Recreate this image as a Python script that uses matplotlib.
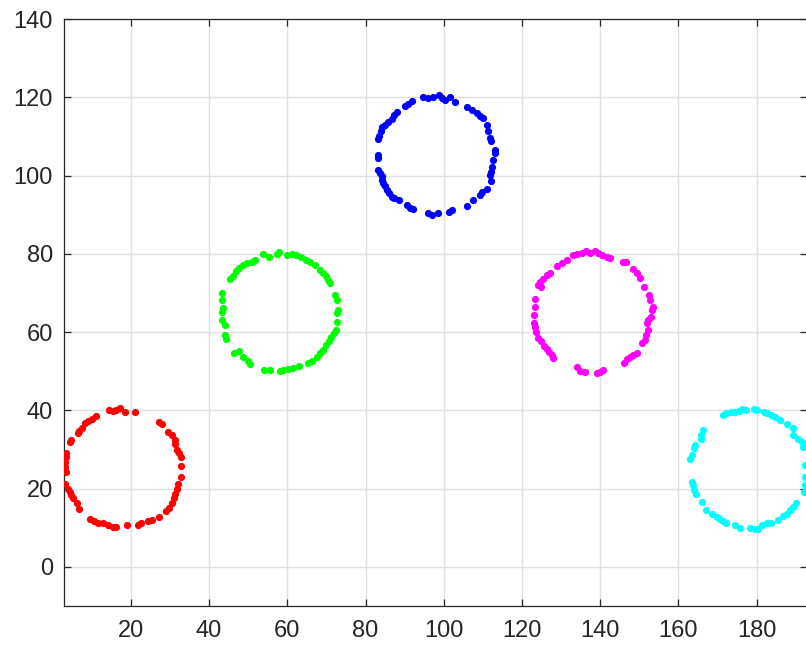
import matplotlib
matplotlib.use("Agg")
import matplotlib.pyplot as plt

# five noisy rings of points, one per cluster
red_x = [14.4, 15.5, 16.3, 17.2, 18.5, 21.0, 11.2, 10.1, 9.1, 8.2, 7.4, 6.7, 6.4, 4.8, 4.4,
         3.5, 3.3, 3.1, 3.1, 3.3, 3.1, 3.8, 4.4, 4.8, 5.3, 6.1, 6.8, 9.5, 10.6, 11.6, 12.9,
         14.2, 15.5, 16.3, 18.9, 21.9, 22.7, 24.4, 25.3, 27.2, 29.1, 29.7, 30.4, 31.0, 31.2,
         31.7, 32.1, 32.8, 32.8, 32.8, 32.3, 31.9, 31.3, 31.4, 30.4, 29.6, 28.0, 27.2]
red_y = [40.1, 39.9, 40.1, 40.5, 39.6, 39.6, 38.6, 37.8, 37.3, 36.7, 35.5, 34.7, 34.1, 32.4, 32.0,
         29.2, 28.1, 26.8, 25.6, 24.3, 21.3, 20.0, 19.2, 18.3, 17.5, 16.2, 14.9, 12.2, 11.7, 11.3, 11.1,
         10.7, 10.2, 10.1, 10.7, 10.8, 11.1, 11.7, 11.9, 12.8, 14.2, 15.1, 16.2, 17.5, 18.7,
         20.0, 21.3, 23.0, 25.8, 28.1, 29.0, 29.8, 31.3, 32.4, 33.7, 34.4, 36.4, 36.9]

green_x = [53.8, 55.4, 57.3, 57.9, 60.0, 61.1, 62.2, 63.4, 64.9, 65.8, 67.1, 68.3, 69.2, 70.0,
           70.5, 70.9, 51.7, 50.9, 49.6, 48.6, 47.7, 47.0, 46.2, 45.3, 43.4, 43.2, 43.6, 43.2,
           43.2, 44.0, 44.0, 44.3, 46.3, 47.7, 48.7, 50.0, 50.4, 54.0, 55.5, 58.1, 59.0, 60.2,
           61.5, 63.0, 65.3, 66.2, 67.5, 68.3, 69.2, 70.0, 70.7, 71.3, 71.9, 72.4, 72.6, 72.2,
           72.6, 73.0, 72.6]
green_y = [80.0, 79.3, 80.0, 80.5, 79.7, 80.0, 79.7, 79.3, 78.4, 77.8, 77.2, 75.9, 75.0, 74.2,
           73.3, 72.5, 78.4, 78.0, 77.6, 77.2, 76.3, 75.5, 74.3, 73.5, 69.9, 68.2, 66.1, 65.2,
           63.1, 61.8, 59.3, 58.2, 54.7, 55.2, 53.7, 52.7, 51.8, 50.3, 50.3, 50.1, 50.3, 50.5,
           50.7, 51.3, 52.0, 52.7, 53.7, 54.6, 55.4, 56.7, 57.6, 58.8, 59.7, 60.5, 62.7, 69.5,
           68.2, 65.6, 65.0]

blue_x = [94.8, 96.0, 97.3, 98.8, 99.6, 100.3, 101.6, 102.9, 91.8, 90.9, 90.1, 88.0, 87.3, 86.7,
          85.8, 85.0, 84.3, 84.0, 83.4, 83.3, 83.3, 83.1, 83.3, 83.7, 84.1, 84.3, 84.5, 85.1,
          85.4, 86.0, 86.7, 87.3, 88.5, 90.5, 91.4, 92.2, 95.9, 97.1, 98.6, 101.3, 102.2, 105.9,
          107.6, 109.3, 109.7, 111.0, 112.1, 111.8, 112.1, 112.4, 112.7, 113.1, 113.0, 112.2,
          111.8, 111.2, 111.0, 110.1, 109.3, 108.4, 107.3, 105.9]
blue_y = [120.0, 119.8, 120.0, 120.5, 119.8, 119.4, 120.0, 118.8, 119.1, 118.3, 117.7, 116.2,
          115.4, 114.5, 113.8, 113.0, 112.3, 111.3, 110.0, 109.4, 105.3, 104.4, 101.5, 100.6,
          99.8, 98.9, 98.1, 97.2, 96.3, 95.5, 94.6, 94.2, 93.8, 92.5, 91.8, 91.5, 90.4, 90.0,
          90.5, 90.8, 91.2, 92.1, 93.8, 95.1, 95.9, 96.6, 98.5, 100.2, 100.9, 102.3, 104.0,
          105.7, 106.6, 108.9, 109.6, 111.3, 113.0, 114.7, 115.1, 115.9, 116.8, 117.4]

magenta_x = [133.1, 134.2, 135.3, 136.4, 137.4, 138.7, 139.5, 140.6, 141.7, 142.5, 131.4, 130.2,
             128.9, 127.2, 126.3, 125.5, 124.6, 124.2, 125.0, 123.3, 123.3, 123.1, 123.1, 123.3,
             123.6, 124.2, 125.0, 125.6, 126.3, 127.0, 127.6, 128.0, 134.2, 134.8, 136.1, 139.1,
             140.0, 140.8, 146.1, 146.8, 147.6, 148.5, 149.3, 150.6, 151.5, 151.7, 152.3, 151.9,
             152.3, 152.9, 153.2, 153.4, 152.7, 152.6, 151.2, 150.2, 149.3, 148.5, 146.6, 145.9]
magenta_y = [79.7, 80.0, 80.3, 80.6, 80.3, 80.6, 80.1, 79.7, 79.3, 78.9, 78.4, 77.6, 76.9, 75.0,
             74.6, 73.5, 72.9, 72.0, 71.4, 68.4, 66.5, 64.4, 62.2, 61.2, 60.1, 58.4, 57.6, 56.4,
             55.8, 55.0, 54.1, 53.3, 51.0, 50.1, 49.9, 49.6, 49.9, 50.3, 52.0, 53.0, 53.7, 54.1,
             54.7, 57.1, 58.0, 59.2, 60.5, 62.2, 63.1, 63.9, 65.6, 66.5, 68.2, 69.5, 71.6, 73.7,
             75.0, 76.0, 77.8, 78.0]

cyan_x = [171.3, 172.3, 173.4, 174.5, 175.6, 176.4, 177.4, 179.3, 180.2, 181.9, 182.7, 183.8,
          184.7, 186.0, 187.7, 189.2, 189.4, 190.7, 191.5, 192.0, 166.4, 165.9, 165.7, 164.2,
          164.0, 163.4, 163.1, 163.6, 163.8, 164.0, 164.5, 166.0, 167.1, 168.5, 169.8, 170.6,
          171.5, 172.3, 174.5, 175.7, 178.3, 179.6, 180.4, 181.5, 182.7, 183.8, 185.5, 186.8,
          187.7, 188.5, 189.4, 190.2, 192.4, 192.4, 192.4, 192.1]
cyan_y = [38.8, 39.2, 39.5, 39.6, 39.8, 40.3, 40.1, 40.3, 40.1, 39.5, 39.2, 38.8, 38.4, 37.5,
          36.4, 35.4, 33.8, 32.6, 32.0, 30.7, 34.9, 33.7, 32.6, 31.1, 30.3, 28.6, 27.5, 21.7,
          20.9, 19.6, 18.5, 16.5, 14.5, 13.6, 12.8, 12.2, 11.7, 11.1, 10.6, 10.0, 10.0, 9.6,
          9.8, 10.6, 11.1, 11.2, 11.9, 13.0, 13.6, 14.5, 15.3, 16.2, 26.0, 23.0, 20.9, 19.2]

clusters = [(red_x, red_y, '#ff0000'), (green_x, green_y, '#00ff00'),
            (blue_x, blue_y, '#0000ff'), (magenta_x, magenta_y, '#ff00ff'),
            (cyan_x, cyan_y, '#00ffff')]

x_ticks = [20, 40, 60, 80, 100, 120, 140, 160, 180]
y_ticks = [0, 20, 40, 60, 80, 100, 120, 140]

plt.rcParams['font.family'] = ['Liberation Sans', 'DejaVu Sans']

fig = plt.figure(figsize=(8.06, 6.45), dpi=100)
ax = fig.add_axes([64 / 806, 39 / 645, 743 / 806, 587 / 645])

for xs, ys, c in clusters:
    ax.plot(xs, ys, linestyle='none', marker='o', markersize=5.2,
            markerfacecolor=c, markeredgewidth=0, zorder=3)

ax.set_xlim(2.9, 192.9)
ax.set_ylim(-10, 140)
ax.set_xticks(x_ticks)
ax.set_yticks(y_ticks)
ax.grid(True, color='#e0e0e0', linewidth=1.0, zorder=0)
ax.set_axisbelow(True)
ax.tick_params(direction='in', length=5, width=0.9, colors='#262626',
               labelsize=17, top=True, right=True)
ax.tick_params(axis='x', pad=10)
ax.tick_params(axis='y', pad=8)
for s in ax.spines.values():
    s.set_color('#262626')
    s.set_linewidth(0.9)

fig.savefig('out.png', dpi=100)
